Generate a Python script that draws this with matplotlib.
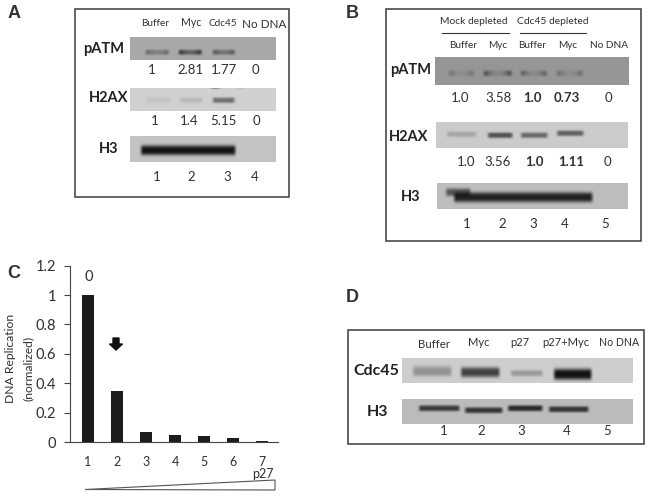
import numpy as np
import matplotlib
matplotlib.use('Agg')
import matplotlib.pyplot as plt
from matplotlib.patches import Polygon, Rectangle, FancyArrow

plt.rcParams['font.family'] = ['Lato', 'DejaVu Sans']

W, H = 650, 496
TXT = '#303030'

# panel C
lanes_c = [1, 2, 3, 4, 5, 6, 7]
replication = [1.0, 0.35, 0.065, 0.045, 0.04, 0.025, 0.006]
yticks_c = [0, 0.2, 0.4, 0.6, 0.8, 1, 1.2]
yticklabels_c = ['0', '0.2', '0.4', '0.6', '0.8', '1', '1.2']

# panel A
a_headers = ['Buffer', 'Myc', 'Cdc45', 'No DNA']
a_header_sizes = [7.2, 7.6, 7.2, 8.4]
a_patm = ['1', '2.81', '1.77', '0']
a_h2ax = ['1', '1.4', '5.15', '0']
a_lanes = ['1', '2', '3', '4']
a_patm_dark = [0.5, 0.9, 0.65]
a_h2ax_dark = [0.07, 0.12, 0.5]

# panel B
b_groups = ['Mock depleted', 'Cdc45 depleted']
b_headers = ['Buffer', 'Myc', 'Buffer', 'Myc', 'No DNA']
b_patm = ['1.0', '3.58', '1.0', '0.73', '0']
b_h2ax = ['1.0', '3.56', '1.0', '1.11', '0']
b_bold = [False, False, True, True, False]
b_lanes = ['1', '2', '3', '4', '5']
b_patm_dark = [0.35, 0.7, 0.55, 0.42]
b_h2ax_dark = [0.18, 0.6, 0.48, 0.52]

# panel D
d_headers = ['Buffer', 'Myc', 'p27', 'p27+Myc', 'No DNA']
d_header_sizes = [8.2, 8.0, 8.0, 8.0, 7.6]
d_lanes = ['1', '2', '3', '4', '5']
d_cdc45_dark = [0.28, 0.68, 0.25, 0.92]
d_h3_dark = [0.7, 0.72, 0.78, 0.72]


def blot(ax, box, bg, bands):
    # box = x0, y0, x1, y1 in pixels, bands = (x0, x1, y, sigma, dark, ends)
    x0, y0, x1, y1 = box
    xx, yy = np.meshgrid(np.arange(x0, x1, 0.5), np.arange(y0, y1, 0.5))
    img = np.full(xx.shape, bg / 255.0)
    for bx0, bx1, by, sig, dark, ends in bands:
        horiz = np.clip((xx - bx0) / 4, 0, 1) * np.clip((bx1 - xx) / 4, 0, 1)
        # pATM bands are darker at both ends
        t = np.abs(xx - (bx0 + bx1) / 2) / ((bx1 - bx0) / 2)
        horiz = horiz * (1 - ends + ends * t ** 2)
        vert = np.exp(-np.abs((yy - by) / sig) ** 3)
        img = img * (1 - np.clip(dark * horiz * vert, 0, 0.9))
    ax.imshow(img, cmap='gray', vmin=0, vmax=1, extent=(x0, x1, y1, y0),
              aspect='auto', interpolation='bilinear', zorder=1)


def frame(ax, x0, y0, x1, y1):
    ax.add_patch(Rectangle((x0, y0), x1 - x0, y1 - y0, fill=False,
                           ec='#3a3a3a', lw=1.1, zorder=3))


def row(ax, xs, y, labels, size=9.5, bold=None):
    for i, (x, s) in enumerate(zip(xs, labels)):
        weight = 'bold' if bold is not None and bold[i] else 'normal'
        ax.text(x, y, s, ha='center', va='center', fontsize=size,
                color=TXT, fontweight=weight)


def name(ax, x, y, s, size=10.5):
    ax.text(x, y, s, ha='center', va='center', fontsize=size,
            fontweight='bold', color='#222222')


def panel(ax, x, y, s):
    ax.text(x, y, s, ha='center', va='center', fontsize=13, fontweight='bold',
            family='Liberation Sans', color='#333333')


fig = plt.figure(figsize=(W / 100, H / 100), dpi=100, facecolor='white')
ov = fig.add_axes([0, 0, 1, 1])

# ---- A
panel(ov, 14, 13, 'A')
frame(ov, 74.5, 8.5, 289, 196.5)
for x, y, s, fs in zip([155, 191, 223, 264], [23.5, 22.5, 24, 25], a_headers, a_header_sizes):
    ov.text(x, y, s, ha='center', va='center', fontsize=fs, color=TXT)
blot(ov, (130, 37, 276, 60), 168,
     [(x0, x1, 52, 2.6, d, 0.55) for (x0, x1), d in
      zip([(144, 170), (177, 203), (211, 236)], a_patm_dark)])
blot(ov, (130, 88, 276, 111), 208,
     [(x0, x1, 100, 2.8, d, 0.1) for (x0, x1), d in
      zip([(145, 172), (178, 204), (211, 236)], a_h2ax_dark)]
     + [(209, 221, 87.5, 1.0, 0.5, 0), (236, 244, 87.5, 0.8, 0.25, 0)])
blot(ov, (130, 136, 276, 162), 196, [(139, 237, 150, 5, 0.9, 0)])
name(ov, 104, 49, 'pATM')
name(ov, 109, 98, 'H2AX')
name(ov, 109, 149, 'H3')
row(ov, [152, 190, 224, 255], 69.5, a_patm)
row(ov, [155, 189, 223, 256], 121, a_h2ax)
row(ov, [157, 191, 227, 255], 177, a_lanes)

# ---- B
panel(ov, 352, 13, 'B')
frame(ov, 385.5, 8.5, 640.5, 240.5)
for x, s in zip([474, 553], b_groups):
    ov.text(x, 22, s, ha='center', va='center', fontsize=7.4, color=TXT)
ov.plot([442, 509], [33, 33], color='#333333', lw=0.8, zorder=3)
ov.plot([520, 586], [33, 33], color='#333333', lw=0.8, zorder=3)
row(ov, [463, 498, 532, 568, 609], 45, b_headers, size=7.2)
blot(ov, (435, 57, 629, 85), 150,
     [(x0, x1, 73, 2.8, d, 0.85) for (x0, x1), d in
      zip([(447, 475), (482, 513), (519, 548), (555, 584)], b_patm_dark)])
blot(ov, (436, 122, 628, 148), 203,
     [(x0, x1, y, 2.8, d, 0) for (x0, x1, y), d in
      zip([(445, 478, 134), (486, 514, 135), (519, 549, 135), (555, 585, 133)], b_h2ax_dark)])
blot(ov, (437, 183, 628, 209), 190,
     [(452, 594, 197, 5, 0.82, 0), (444, 472, 192, 4, 0.55, 0)])
name(ov, 411, 70, 'pATM')
name(ov, 409, 137, 'H2AX')
name(ov, 411, 197, 'H3')
row(ov, [460, 498, 532, 567, 608], 98.5, b_patm, bold=b_bold)
row(ov, [466, 498, 534, 571, 607], 162, b_h2ax, bold=b_bold)
row(ov, [467, 502, 533, 565, 605], 224, b_lanes)

# ---- C (bars are on their own axes below)
panel(ov, 14, 274, 'C')
ov.text(89, 277, '0', ha='center', va='center', fontsize=10.5, color=TXT)
ov.add_patch(FancyArrow(116, 338, 0, 12, width=6, head_width=13, head_length=6,
                        length_includes_head=True, color='#111111', zorder=3))
ov.text(11, 358, 'DNA Replication', rotation=90, ha='center', va='center',
        fontsize=8.7, color=TXT)
ov.text(28, 368, '(normalized)', rotation=90, ha='center', va='center',
        fontsize=8.7, color=TXT)
ov.text(263, 474, 'p27', ha='center', va='center', fontsize=9, color=TXT)
ov.add_patch(Polygon([(85, 489.5), (275, 480), (275, 490)], closed=True,
                     fc='white', ec='#555555', lw=0.8, zorder=3))

# ---- D
panel(ov, 352, 298, 'D')
frame(ov, 347.5, 330, 644, 444)
for x, y, s, fs in zip([434, 479, 520, 566, 619], [344.5, 343, 343, 342, 342], d_headers, d_header_sizes):
    ov.text(x, y, s, ha='center', va='center', fontsize=fs, color=TXT)
blot(ov, (402, 358, 633, 383), 205,
     [(x0, x1, y, s, d, 0) for (x0, x1, y, s), d in
      zip([(411, 453, 371, 5), (459, 501, 372, 5), (509, 544, 373, 3), (552, 593, 374, 5.5)], d_cdc45_dark)])
blot(ov, (402, 399, 633, 424), 188,
     [(x0, x1, y, 3, d, 0) for (x0, x1, y), d in
      zip([(417, 461, 408), (463, 504, 410), (506, 544, 408), (547, 590, 409)], d_h3_dark)])
name(ov, 376, 371, 'Cdc45', size=11.5)
name(ov, 377, 412, 'H3', size=11.5)
row(ov, [444, 481, 521, 567, 607], 431, d_lanes)

ov.set_xlim(0, W)
ov.set_ylim(H, 0)
ov.axis('off')

# ---- C bars
ax = fig.add_axes([70 / W, (H - 442) / H, 208 / W, 176.3 / H])
ax.patch.set_alpha(0)
ax.bar(lanes_c, replication, width=0.4, color='#1c1c1c')
ax.set_xlim(0.38, 7.55)
ax.set_ylim(0, 1.2)
ax.set_yticks(yticks_c)
ax.set_yticklabels(yticklabels_c, fontsize=10.5, color=TXT)
ax.set_xticks(lanes_c)
ax.set_xticklabels([str(i) for i in lanes_c], fontsize=9, color=TXT)
ax.tick_params(axis='x', length=0, pad=10)
ax.tick_params(axis='y', length=4, width=0.8, color='#444444', pad=6)
for s in ['top', 'right']:
    ax.spines[s].set_visible(False)
for s in ['left', 'bottom']:
    ax.spines[s].set_color('#444444')
    ax.spines[s].set_linewidth(0.8)

fig.savefig('out.png', dpi=100)
